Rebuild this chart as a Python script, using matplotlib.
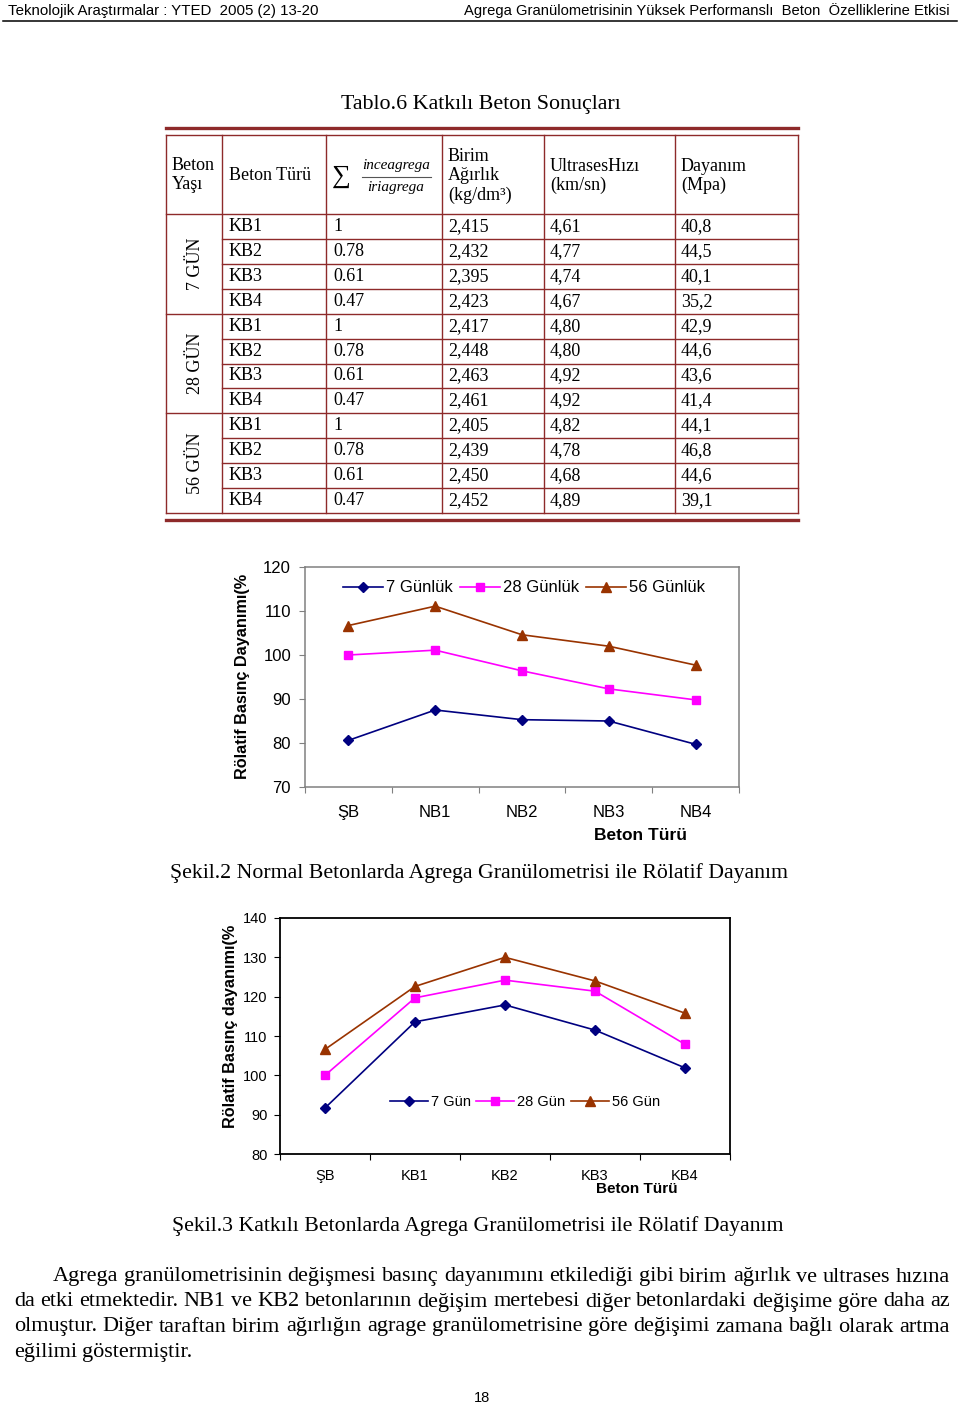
import matplotlib
matplotlib.use("Agg")
import matplotlib.pyplot as plt
import numpy as np

# --- table data (Tablo.6) ---
ages = ["7 GÜN", "28 GÜN", "56 GÜN"]
types = ["KB1", "KB2", "KB3", "KB4"] * 3
ratios = ["1", "0.78", "0.61", "0.47"] * 3
unit_weight = ["2,415", "2,432", "2,395", "2,423",
               "2,417", "2,448", "2,463", "2,461",
               "2,405", "2,439", "2,450", "2,452"]
ultrasonic = ["4,61", "4,77", "4,74", "4,67",
              "4,80", "4,80", "4,92", "4,92",
              "4,82", "4,78", "4,68", "4,89"]
strength = ["40,8", "44,5", "40,1", "35,2",
            "42,9", "44,6", "43,6", "41,4",
            "44,1", "46,8", "44,6", "39,1"]

# --- Şekil.2 data ---
cats_normal = ["ŞB", "NB1", "NB2", "NB3", "NB4"]
normal_7 = [80.6, 87.5, 85.3, 85.0, 79.7]
normal_28 = [100.0, 101.1, 96.4, 92.3, 89.8]
normal_56 = [106.7, 111.1, 104.6, 102.0, 97.7]

# --- Şekil.3 data ---
cats_katkili = ["ŞB", "KB1", "KB2", "KB3", "KB4"]
katkili_7 = [91.7, 113.6, 117.9, 111.5, 101.9]
katkili_28 = [100.0, 119.7, 124.2, 121.4, 107.9]
katkili_56 = [106.6, 122.6, 130.0, 124.0, 115.8]

paragraph = [
    "Agrega granülometrisinin değişmesi basınç dayanımını etkilediği gibi birim ağırlık ve ultrases hızına",
    "da etki etmektedir. NB1 ve KB2 betonlarının değişim mertebesi diğer betonlardaki değişime göre daha az",
    "olmuştur. Diğer taraftan birim ağırlığın agrage granülometrisine göre değişimi zamana bağlı olarak artma",
    "eğilimi göstermiştir.",
]

SERIF = "Liberation Serif"
SANS = "Liberation Sans"
RED = "#8e2a2a"
C7, C28, C56 = "#000080", "#ff00ff", "#993300"

fig = plt.figure(figsize=(9.6, 14.07), dpi=100, facecolor="white")
bg = fig.add_axes([0, 0, 1, 1])
bg.set_xlim(0, 960)
bg.set_ylim(1407, 0)
bg.axis("off")

# page header
bg.text(8, 11, "Teknolojik Araştırmalar : YTED  2005 (2) 13-20", family=SANS,
        fontsize=10.8, va="center", ha="left")
bg.text(950, 11, "Agrega Granülometrisinin Yüksek Performanslı  Beton  Özelliklerine Etkisi",
        family=SANS, fontsize=10.6, va="center", ha="right")
bg.plot([3, 957], [21, 21], color="black", lw=1.1)

# table
bg.text(481, 104, "Tablo.6 Katkılı Beton Sonuçları", family=SERIF, fontsize=15.8,
        ha="center", va="center")
xs = [166, 222, 326, 442, 544, 675, 798]
top, head_bot, bot = 135, 214, 513
row_h = (bot - head_bot) / 12
bg.plot([166, 798], [128, 128], color=RED, lw=2.4)
bg.plot([166, 798], [520, 520], color=RED, lw=2.4)
for x in xs:
    bg.plot([x, x], [top, bot], color=RED, lw=1.0)
bg.plot([166, 798], [top, top], color=RED, lw=1.0)
bg.plot([166, 798], [head_bot, head_bot], color=RED, lw=1.0)
for r in range(1, 13):
    y = head_bot + r * row_h
    x0 = 166 if r % 4 == 0 else 222
    bg.plot([x0, 798], [y, y], color=RED, lw=1.0)

tf = dict(family=SERIF, fontsize=13, va="center", ha="left")
bg.text(172, 175, "Beton\nYaşı", linespacing=1.15, **tf)
bg.text(229, 175, "Beton Türü", **tf)
bg.text(332, 177, "∑", family=SERIF, fontsize=19, va="center", ha="left")
bg.text(396, 166, "inceagrega", family=SERIF, style="italic", fontsize=11,
        ha="center", va="center")
bg.plot([362, 431], [177, 177], color="#555555", lw=0.8)
bg.text(396, 188, "iriagrega", family=SERIF, style="italic", fontsize=11,
        ha="center", va="center")
bg.text(448, 176, "Birim\nAğırlık\n(kg/dm³)", linespacing=1.15, **tf)
bg.text(550, 176, "UltrasesHızı\n(km/sn)", linespacing=1.15, **tf)
bg.text(681, 176, "Dayanım\n(Mpa)", linespacing=1.15, **tf)

for g, age in enumerate(ages):
    yc = head_bot + (g * 4 + 2) * row_h
    bg.text(195, yc, age, family=SERIF, fontsize=13, rotation=90,
            ha="center", va="center")
for i in range(12):
    yc = head_bot + (i + 0.5) * row_h
    for x, val in zip([229, 333, 448, 550, 681],
                      [types[i], ratios[i], unit_weight[i], ultrasonic[i], strength[i]]):
        bg.text(x, yc, val, **tf)


def px_axes(l, t, r, b):
    return fig.add_axes([l / 960, 1 - b / 1407, (r - l) / 960, (b - t) / 1407])


def excel_axis(ax, cats, frame_color, frame_lw, fs, xpad, ypad):
    x = np.arange(len(cats))
    ax.set_xlim(-0.5, len(cats) - 0.5)
    ax.set_xticks(np.arange(len(cats) + 1) - 0.5)
    ax.set_xticklabels([])
    ax.set_xticks(x, minor=True)
    ax.set_xticklabels(cats, minor=True, family=SANS, fontsize=fs)
    ax.tick_params(axis="x", which="minor", length=0, pad=xpad)
    ax.tick_params(axis="x", which="major", length=4, direction="out", color=frame_color)
    ax.tick_params(axis="y", length=4, direction="out", color=frame_color,
                   labelsize=fs, pad=ypad)
    for lab in ax.get_yticklabels():
        lab.set_family(SANS)
    for s in ax.spines.values():
        s.set_color(frame_color)
        s.set_linewidth(frame_lw)


# Şekil.2
ax1 = px_axes(305, 567, 739, 787)
x1 = np.arange(len(cats_normal))
ax1.plot(x1, normal_7, color=C7, lw=1.2, marker="D", ms=5.5, label="7 Günlük")
ax1.plot(x1, normal_28, color=C28, lw=1.2, marker="s", ms=6, label="28 Günlük")
ax1.plot(x1, normal_56, color=C56, lw=1.2, marker="^", ms=7, label="56 Günlük")
ax1.set_ylim(70, 120)
ax1.set_yticks(np.arange(70, 121, 10))
excel_axis(ax1, cats_normal, "#808080", 1.1, 12, 13, 6)
ax1.legend(loc="center left", bbox_to_anchor=(0.087, 0.905), ncol=3, frameon=False,
           borderpad=0, borderaxespad=0, handlelength=2.4, handletextpad=0.2,
           columnspacing=0.4, prop={"family": SANS, "size": 12})
fig.text(640 / 960, 1 - 836 / 1407, "Beton Türü", family=SANS, fontsize=12.5,
         weight="bold", ha="center", va="center")
fig.text(243 / 960, 1 - 676 / 1407, "Rölatif Basınç Dayanımı(%", family=SANS,
         fontsize=11.7, weight="bold", rotation=90, ha="center", va="center")
bg.text(170, 873, "Şekil.2 Normal Betonlarda Agrega Granülometrisi ile Rölatif Dayanım",
        family=SERIF, fontsize=15.7, ha="left", va="center")

# Şekil.3
ax2 = px_axes(280, 918, 730, 1154)
x2 = np.arange(len(cats_katkili))
ax2.plot(x2, katkili_7, color=C7, lw=1.2, marker="D", ms=5.5, label="7 Gün")
ax2.plot(x2, katkili_28, color=C28, lw=1.2, marker="s", ms=6, label="28 Gün")
ax2.plot(x2, katkili_56, color=C56, lw=1.2, marker="^", ms=7, label="56 Gün")
ax2.set_ylim(80, 140)
ax2.set_yticks(np.arange(80, 141, 10))
excel_axis(ax2, cats_katkili, "black", 1.3, 10.5, 11, 5)
ax2.legend(loc="center left", bbox_to_anchor=(0.244, 0.22), ncol=3, frameon=False,
           borderpad=0, borderaxespad=0, handlelength=2.6, handletextpad=0.2,
           columnspacing=0.4, prop={"family": SANS, "size": 10.5})
fig.text(637 / 960, 1 - 1189 / 1407, "Beton Türü", family=SANS, fontsize=11,
         weight="bold", ha="center", va="center")
fig.text(230 / 960, 1 - 1026 / 1407, "Rölatif Basınç dayanımı(%", family=SANS,
         fontsize=11.7, weight="bold", rotation=90, ha="center", va="center")
bg.text(172, 1226, "Şekil.3 Katkılı Betonlarda Agrega Granülometrisi ile Rölatif Dayanım",
        family=SERIF, fontsize=15.7, ha="left", va="center")

# justified paragraph
renderer = fig.canvas.get_renderer()
line_y = [1277, 1302, 1327, 1353]
for k, line in enumerate(paragraph):
    x0 = 53 if k == 0 else 14
    words = line.split(" ")
    objs = [bg.text(0, line_y[k], w, family=SERIF, fontsize=16, ha="left",
                    va="center") for w in words]
    widths = [o.get_window_extent(renderer).width for o in objs]
    if k < len(paragraph) - 1:
        gap = (950 - x0 - sum(widths)) / (len(words) - 1)
    else:
        gap = 5
    x = x0
    for o, w in zip(objs, widths):
        o.set_x(x)
        x += w + gap

bg.text(482, 1398, "18", family=SANS, fontsize=10.5, ha="center", va="center")

fig.savefig("out.png", dpi=100, facecolor="white")
